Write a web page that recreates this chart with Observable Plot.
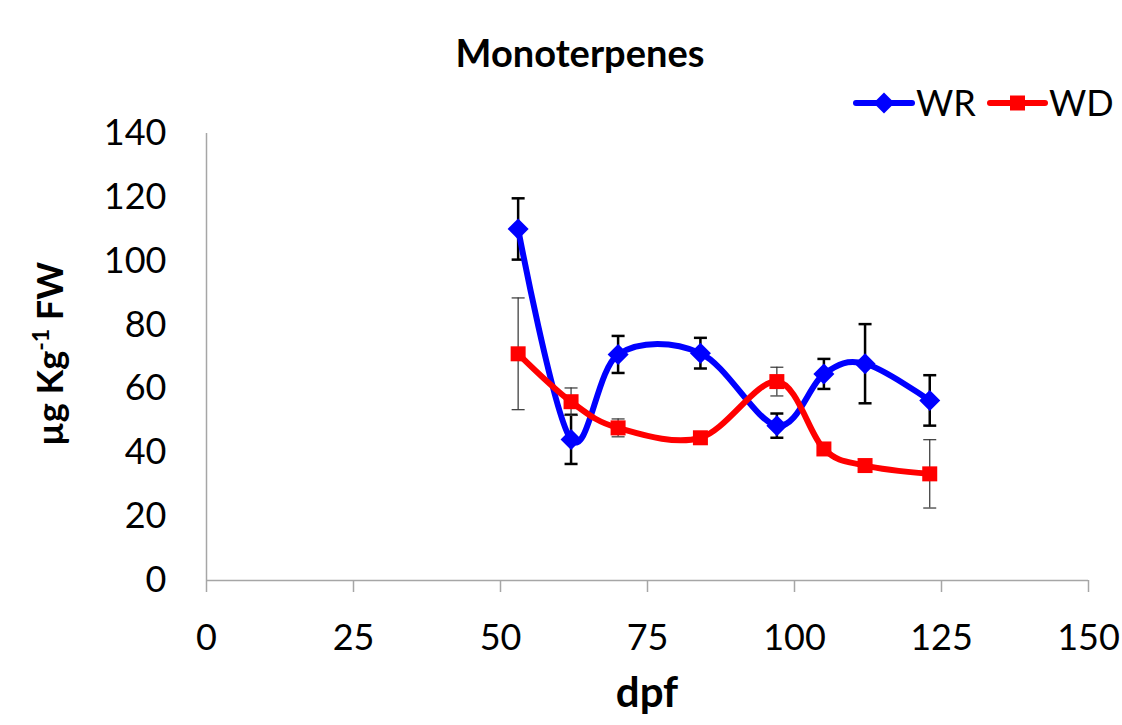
<!DOCTYPE html>
<html>
<head>
<meta charset="utf-8">
<script src="https://cdn.jsdelivr.net/npm/d3@7"></script>
<script src="https://cdn.jsdelivr.net/npm/@observablehq/plot@0.6"></script>
<style>
  html, body { margin: 0; padding: 0; background: #fff; }
  #wrap { position: relative; width: 1122px; height: 725px; font-family: Lato, "Open Sans", sans-serif; }
  #wrap > svg.overlay { position: absolute; left: 0; top: 0; pointer-events: none; }
</style>
</head>
<body>
<div id="wrap"></div>
<script>
// ---- data ----
const title = "Monoterpenes";
const xLabel = "dpf";
const seriesNames = ["WR", "WD"];
const seriesColors = ["#0000ff", "#ff0000"];
const dpf = [53, 62, 70, 84, 97, 105, 112, 123];
const wr = [110.1, 44.2, 70.8, 71.2, 48.5, 64.7, 67.9, 56.4];
const wrErr = [9.6, 7.7, 5.8, 4.8, 3.8, 4.7, 12.4, 7.9];
const wd = [71.0, 56.0, 47.8, 44.7, 62.3, 41.2, 36.0, 33.4];
const wdErr = [17.5, 4.3, 2.8, 0.5, 4.5, 0.5, 0.5, 10.7];
const xTicks = [0, 25, 50, 75, 100, 125, 150];
const yTicks = [0, 20, 40, 60, 80, 100, 120, 140];

const wrData = dpf.map((d, i) => ({x: d, y: wr[i], lo: wr[i] - wrErr[i], hi: wr[i] + wrErr[i]}));
const wdData = dpf.map((d, i) => ({x: d, y: wd[i], lo: wd[i] - wdErr[i], hi: wd[i] + wdErr[i]}));

// custom symbols
const diamond = {draw(ctx) { const r = 10.5; ctx.moveTo(0, -r); ctx.lineTo(r, 0); ctx.lineTo(0, r); ctx.lineTo(-r, 0); ctx.closePath(); }};
const square = {draw(ctx) { const r = 7.5; ctx.rect(-r, -r, 2 * r, 2 * r); }};
const cap = {draw(ctx) { const w = 6.5; ctx.moveTo(-w, 0); ctx.lineTo(w, 0); }};

const axisGray = "#a6a6a6";

const chart = Plot.plot({
  width: 1122,
  height: 725,
  marginLeft: 206,
  marginRight: 34,
  marginTop: 133,
  marginBottom: 145,
  style: {fontFamily: "Lato, 'Open Sans', sans-serif", fontSize: "36px", color: "black", background: "white"},
  x: {domain: [0, 150]},
  y: {domain: [0, 140]},
  marks: [
    Plot.ruleY([0], {stroke: axisGray, strokeWidth: 1.5}),
    Plot.ruleX([0], {stroke: axisGray, strokeWidth: 1.5}),
    Plot.axisX({ticks: xTicks, tickSize: 12, text: null, stroke: axisGray, strokeWidth: 1.5, label: null}),
    Plot.axisX({ticks: xTicks, tickSize: 0, tickPadding: 44, fill: "black", label: null}),
    Plot.axisY({ticks: yTicks, tickSize: 0, tickPadding: 40, fill: "black", label: null}),
    // WR error bars
    Plot.ruleX(wrData, {x: "x", y1: "lo", y2: "hi", stroke: "black", strokeWidth: 2.5}),
    Plot.dot(wrData, {x: "x", y: "lo", symbol: cap, stroke: "black", strokeWidth: 2.5, fill: "none"}),
    Plot.dot(wrData, {x: "x", y: "hi", symbol: cap, stroke: "black", strokeWidth: 2.5, fill: "none"}),
    // WD error bars
    Plot.ruleX(wdData, {x: "x", y1: "lo", y2: "hi", stroke: "#333", strokeWidth: 1.2}),
    Plot.dot(wdData, {x: "x", y: "lo", symbol: cap, stroke: "#333", strokeWidth: 1.2, fill: "none"}),
    Plot.dot(wdData, {x: "x", y: "hi", symbol: cap, stroke: "#333", strokeWidth: 1.2, fill: "none"}),
    // WR series
    Plot.line(wrData, {x: "x", y: "y", stroke: seriesColors[0], strokeWidth: 6, curve: "cardinal", tension: 0}),
    Plot.dot(wrData, {x: "x", y: "y", symbol: diamond, fill: seriesColors[0], stroke: "none"}),
    // WD series
    Plot.line(wdData, {x: "x", y: "y", stroke: seriesColors[1], strokeWidth: 6, curve: "cardinal", tension: 0}),
    Plot.dot(wdData, {x: "x", y: "y", symbol: square, fill: seriesColors[1], stroke: "none"})
  ]
});

const wrap = document.getElementById("wrap");
wrap.appendChild(chart);

// overlay: title, axis titles, legend
const ov = d3.select(wrap).append("svg").attr("class", "overlay").attr("width", 1122).attr("height", 725)
  .style("font-family", "Lato, 'Open Sans', sans-serif");

ov.append("text").attr("x", 580).attr("y", 67).attr("text-anchor", "middle")
  .attr("font-weight", "bold").attr("font-size", 38).text(title);

ov.append("text").attr("x", 647).attr("y", 707).attr("text-anchor", "middle")
  .attr("font-weight", "bold").attr("font-size", 42).text(xLabel);

const yl = ov.append("text").attr("transform", "translate(63,354) rotate(-90)").attr("text-anchor", "middle")
  .attr("font-weight", "bold").attr("font-size", 36);
yl.append("tspan").text("µg Kg");
yl.append("tspan").attr("font-size", 23).attr("dy", -14).text("-1");
yl.append("tspan").attr("dy", 14).text(" FW");

// legend
const leg = [
  {name: seriesNames[0], color: seriesColors[0], x0: 856, x1: 912, sym: diamond, tx: 916},
  {name: seriesNames[1], color: seriesColors[1], x0: 990, x1: 1045, sym: square, tx: 1049}
];
leg.forEach(l => {
  ov.append("line").attr("x1", l.x0).attr("x2", l.x1).attr("y1", 103).attr("y2", 103)
    .attr("stroke", l.color).attr("stroke-width", 6).attr("stroke-linecap", "round");
  ov.append("path").attr("d", d3.symbol(l.sym)()).attr("transform", `translate(${(l.x0 + l.x1) / 2},103)`).attr("fill", l.color);
  ov.append("text").attr("x", l.tx).attr("y", 116).attr("font-size", 36).text(l.name);
});
</script>
</body>
</html>
